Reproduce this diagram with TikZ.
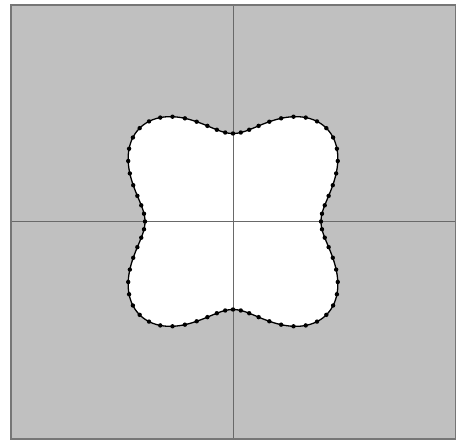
\documentclass[tikz,border=0pt]{standalone}
\definecolor{panelgray}{RGB}{192,192,192}
\definecolor{framegray}{RGB}{118,118,118}
\definecolor{axisgray}{RGB}{105,105,105}
\tikzset{
  panel/.style={fill=panelgray},
  frame/.style={draw=framegray, line width=1.6pt},
  axisline/.style={draw=axisgray, line width=1pt},
  curveline/.style={draw=black, line width=1.3pt},
  sampledot/.style={fill=black}
}
\begin{document}
\begin{tikzpicture}[x=1pt,y=-1pt]
\useasboundingbox (0,0) rectangle (460,444);
\coordinate (O) at (233,221.5);
\coordinate (TL) at (10.8,4.8);
\coordinate (BR) at (455.5,439);
\fill[panel] (TL) rectangle (BR);
\fill[white] plot[domain=0:360, samples=361] ({233+(110-22*cos(4*\x))*cos(\x)}, {221.5-(110-22*cos(4*\x))*sin(\x)}) -- cycle;
\draw[axisline] (O |- TL) -- (O |- BR);
\draw[axisline] (O -| TL) -- (O -| BR);
\draw[curveline] plot[domain=0:360, samples=361] ({233+(110-22*cos(4*\x))*cos(\x)}, {221.5-(110-22*cos(4*\x))*sin(\x)}) -- cycle;
\foreach \t in {0,5,...,355} {
  \fill[sampledot] ({233+(110-22*cos(4*\t))*cos(\t)}, {221.5-(110-22*cos(4*\t))*sin(\t)}) circle (2.2);
}
\draw[frame] (TL) rectangle (BR);
\end{tikzpicture}
\end{document}
